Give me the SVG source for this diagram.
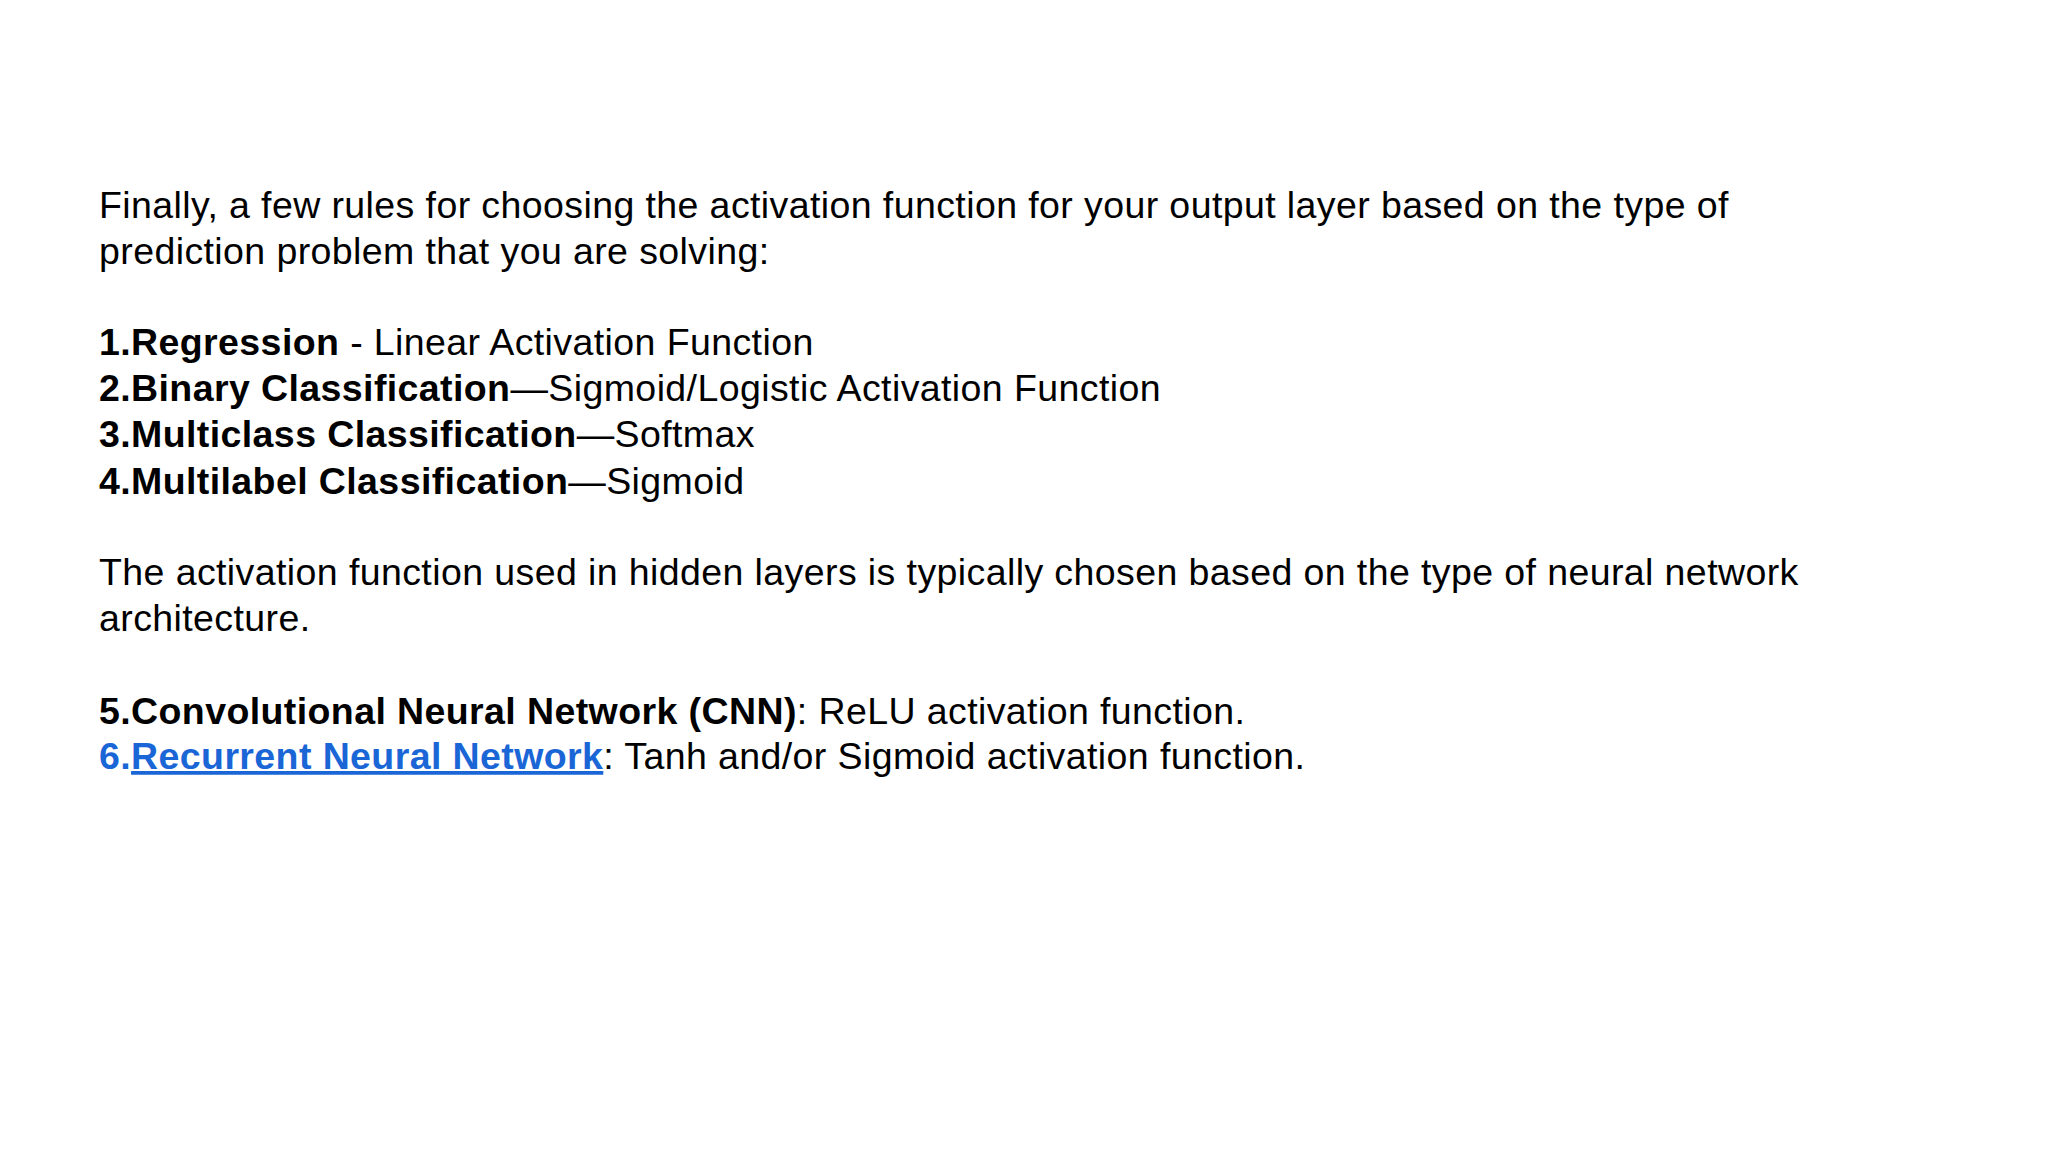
<svg xmlns="http://www.w3.org/2000/svg" width="2048" height="1152" viewBox="0 0 2048 1152">
<style>
text{font-family:"Liberation Sans",Arial,sans-serif;font-size:37.5px;letter-spacing:0.4px;fill:#000}
.b{font-weight:bold}
.l{fill:#1a66d6}
.u{text-decoration:underline}
</style>
<rect width="2048" height="1152" fill="#fff"/>
<g id="text">
<text x="99" y="218">Finally, a few rules for choosing the activation function for your output layer based on the type of</text>
<text x="99" y="264">prediction problem that you are solving:</text>
<text x="99" y="355"><tspan class="b">1.Regression</tspan> - Linear Activation Function</text>
<text x="99" y="401"><tspan class="b">2.Binary Classification</tspan>—Sigmoid/Logistic Activation Function</text>
<text x="99" y="447"><tspan class="b">3.Multiclass Classification</tspan>—Softmax</text>
<text x="99" y="494"><tspan class="b">4.Multilabel Classification</tspan>—Sigmoid</text>
<text x="99" y="585">The activation function used in hidden layers is typically chosen based on the type of neural network</text>
<text x="99" y="631">architecture.</text>
<text x="99" y="724"><tspan class="b">5.Convolutional Neural Network (CNN)</tspan>: ReLU activation function.</text>
<text x="99" y="769"><tspan class="b l">6.</tspan><tspan class="b l u">Recurrent Neural Network</tspan>: Tanh and/or Sigmoid activation function.</text>
</g>
</svg>
